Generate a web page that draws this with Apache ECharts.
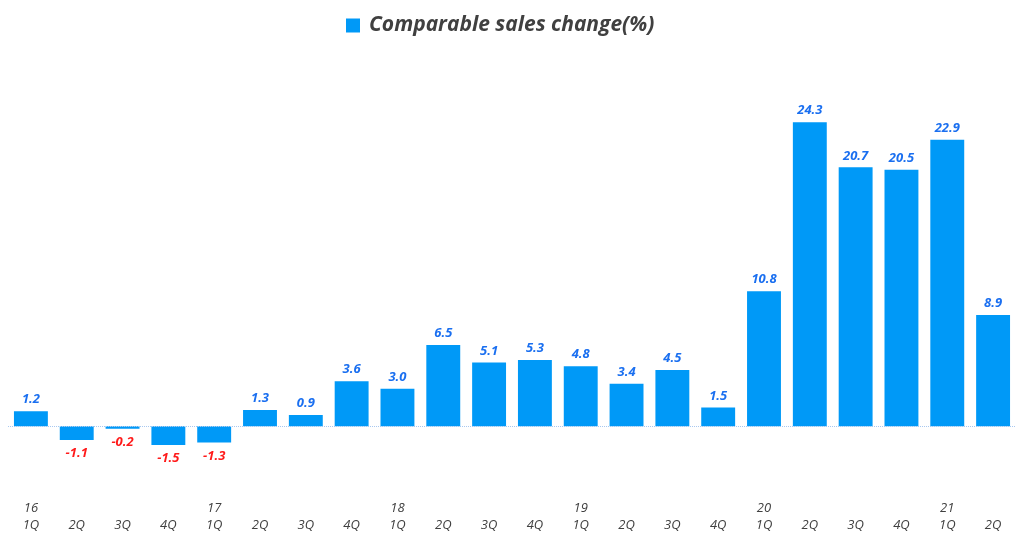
<!DOCTYPE html>
<html>
<head>
<meta charset="utf-8">
<script src="https://cdn.jsdelivr.net/npm/echarts@6/dist/echarts.min.js"></script>
<style>html,body{margin:0;padding:0;background:#fff}#c{width:1024px;height:542px}</style>
</head>
<body>
<div id="c"></div>
<script>
const categories = ["16\n1Q","\n2Q","\n3Q","\n4Q","17\n1Q","\n2Q","\n3Q","\n4Q","18\n1Q","\n2Q","\n3Q","\n4Q","19\n1Q","\n2Q","\n3Q","\n4Q","20\n1Q","\n2Q","\n3Q","\n4Q","21\n1Q","\n2Q"];
const salesChange = [1.2,-1.1,-0.2,-1.5,-1.3,1.3,0.9,3.6,3.0,6.5,5.1,5.3,4.8,3.4,4.5,1.5,10.8,24.3,20.7,20.5,22.9,8.9];
const seriesName = "Comparable sales change(%)";

const chart = echarts.init(document.getElementById('c'));
const data = salesChange.map(v => v < 0 ? {
  value: v,
  label: { position: 'bottom', color: '#ff1a1a', distance: 7 }
} : { value: v });

chart.setOption({
  animation: false,
  textStyle: { fontFamily: 'Open Sans' },
  legend: {
    top: 10,
    left: 341,
    itemWidth: 14,
    itemHeight: 14,
    icon: 'rect',
    itemGap: 10,
    textStyle: { fontSize: 21, fontWeight: 'bold', fontStyle: 'italic', color: '#404040', fontFamily: 'Open Sans', padding: [0, 0, 0, 4] },
    data: [seriesName]
  },
  grid: { left: 8, right: 8, top: 76, height: 419 },
  xAxis: {
    type: 'category',
    data: categories,
    axisLine: { show: false, onZero: false },
    axisTick: { show: false },
    axisLabel: { margin: 5, fontSize: 13, fontStyle: 'italic', color: '#404040', lineHeight: 17, interval: 0 }
  },
  yAxis: {
    type: 'value',
    min: -5.5,
    max: 28,
    show: false,
    splitLine: { show: false }
  },
  series: [{
    name: seriesName,
    type: 'bar',
    data: data,
    barWidth: '74%',
    itemStyle: { color: '#0099f7' },
    label: {
      show: true,
      position: 'top',
      distance: 5,
      color: '#1a6ff0',
      fontSize: 13,
      fontWeight: 'bold',
      fontStyle: 'italic',
      fontFamily: 'Open Sans',
      formatter: p => p.value.toFixed(1)
    },
    markLine: {
      silent: true,
      symbol: 'none',
      label: { show: false },
      lineStyle: { type: 'dotted', color: '#a8c8f0', width: 1 },
      data: [{ yAxis: 0 }]
    }
  }]
});
</script>
</body>
</html>
